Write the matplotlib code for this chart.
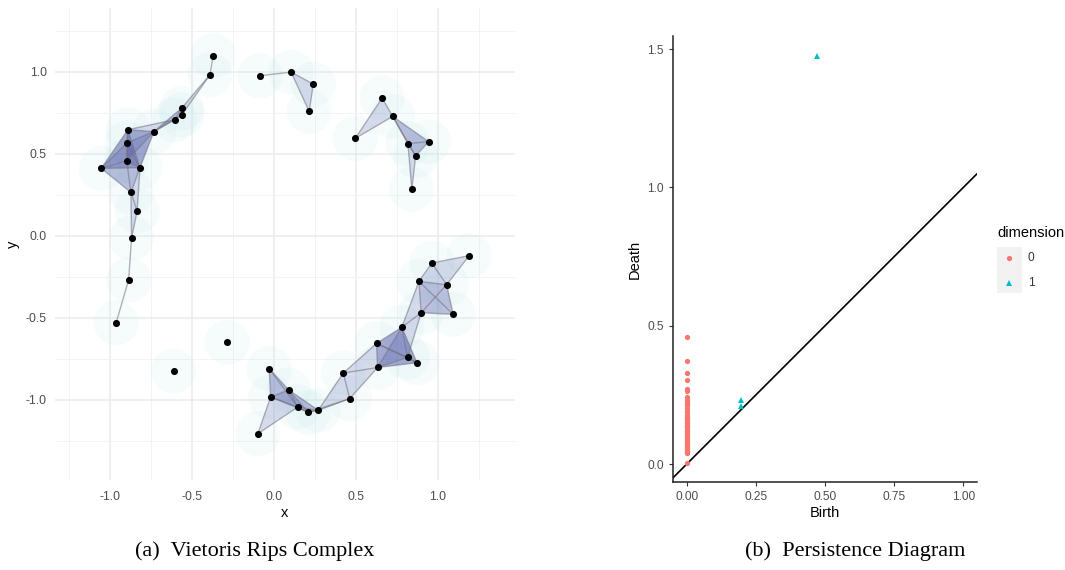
import numpy as np
import matplotlib
matplotlib.use("Agg")
import matplotlib.pyplot as plt
from matplotlib.patches import Circle, Polygon, Rectangle
from matplotlib.lines import Line2D
from itertools import combinations

# ---------------- data: point cloud (panel a) ----------------
pts_x = [-0.370, -0.390, -0.563, -0.561, -0.605, -0.732, -0.890, -0.898, -0.898,
         -1.053, -0.817, -0.872, -0.834, -0.868, -0.886, -0.962, -0.085, 0.105,
         0.240, 0.215, 0.660, 0.724, 0.496, 0.817, 0.943, 0.864, 0.841, -0.285,
         -0.612, -0.029, 0.090, -0.020, 0.145, 0.210, 0.270, -0.098, 0.423, 0.462,
         0.626, 0.632, 0.780, 0.815, 0.872, 0.898, 0.884, 0.963, 1.053, 1.093, 1.191]
pts_y = [1.100, 0.983, 0.779, 0.739, 0.709, 0.636, 0.648, 0.567, 0.459,
         0.412, 0.416, 0.266, 0.152, -0.012, -0.268, -0.529, 0.977, 0.999,
         0.926, 0.759, 0.841, 0.729, 0.595, 0.563, 0.575, 0.488, 0.285, -0.649,
         -0.823, -0.809, -0.939, -0.982, -1.043, -1.076, -1.063, -1.206, -0.836, -0.992,
         -0.655, -0.802, -0.557, -0.740, -0.773, -0.468, -0.277, -0.165, -0.297, -0.478, -0.120]
rips_eps = 0.30
ball_radius = 0.137

x_ticks = [-1.0, -0.5, 0.0, 0.5, 1.0]
y_ticks = [-1.0, -0.5, 0.0, 0.5, 1.0]

# ---------------- data: persistence diagram (panel b) ----------------
dim0_death = [0.005, 0.040, 0.044, 0.049, 0.055, 0.059, 0.062, 0.068, 0.074, 0.079,
              0.083, 0.088, 0.093, 0.097, 0.104, 0.108, 0.112, 0.118, 0.121, 0.127,
              0.133, 0.139, 0.142, 0.147, 0.152, 0.158, 0.162, 0.167, 0.171, 0.178,
              0.184, 0.191, 0.203, 0.212, 0.218, 0.224, 0.233, 0.243, 0.263, 0.270,
              0.304, 0.328, 0.371, 0.458]
dim0_birth = [0.0] * len(dim0_death)
dim1_birth = [0.195, 0.195, 0.471]
dim1_death = [0.231, 0.210, 1.474]

pd_ticks_x = [0.00, 0.25, 0.50, 0.75, 1.00]
pd_ticks_y = [0.0, 0.5, 1.0, 1.5]

col0 = "#F8766D"
col1 = "#00BFC4"

W, H = 1065, 570
fig = plt.figure(figsize=(W / 100, H / 100), dpi=100)
plt.rcParams["font.family"] = ["Liberation Sans", "DejaVu Sans"]

def px_rect(l, t, r, b):
    return [l / W, 1 - b / H, (r - l) / W, (b - t) / H]

# ---------------- panel a ----------------
ax = fig.add_axes(px_rect(55, 8, 515, 480))
ax.set_xlim(-1.335, 1.47)
ax.set_ylim(-1.488, 1.39)
ax.set_xticks(x_ticks)
ax.set_yticks(y_ticks)
ax.set_xticklabels([f"{v:.1f}" for v in x_ticks])
ax.set_yticklabels([f"{v:.1f}" for v in y_ticks])
ax.set_xticks([-1.25, -0.75, -0.25, 0.25, 0.75, 1.25], minor=True)
ax.set_yticks([-1.25, -0.75, -0.25, 0.25, 0.75, 1.25], minor=True)
ax.grid(which="major", color="#ebebeb", lw=1.1)
ax.grid(which="minor", color="#f3f3f3", lw=0.7)
ax.set_axisbelow(True)
for s in ax.spines.values():
    s.set_visible(False)
ax.tick_params(which="both", length=0, colors="#4d4d4d", labelsize=8.8)
ax.tick_params(axis="x", pad=8)
ax.tick_params(axis="y", pad=6)
ax.set_xlabel("x", fontsize=10.5, labelpad=2)
ax.set_ylabel("y", fontsize=10.5, labelpad=4)

P = np.column_stack([pts_x, pts_y])
n = len(P)
D = np.sqrt(((P[:, None, :] - P[None, :, :]) ** 2).sum(-1))

for i in range(n):
    ax.add_patch(Circle(P[i], ball_radius, facecolor=(0.72, 0.9, 0.92), alpha=0.12,
                        edgecolor="none", zorder=1))

edges = [(i, j) for i, j in combinations(range(n), 2) if D[i, j] < rips_eps]
tris = [(i, j, k) for i, j, k in combinations(range(n), 3)
        if D[i, j] < rips_eps and D[i, k] < rips_eps and D[j, k] < rips_eps]
for t in tris:
    ax.add_patch(Polygon(P[list(t)], closed=True, facecolor=(0.2, 0.22, 0.6),
                         alpha=0.16, edgecolor="none", zorder=2))
for i, j in edges:
    ax.plot([P[i, 0], P[j, 0]], [P[i, 1], P[j, 1]], color=(0.45, 0.45, 0.5),
            alpha=0.55, lw=1.0, zorder=3)
ax.scatter(pts_x, pts_y, s=26, color="black", zorder=4, linewidths=0)

# ---------------- panel b ----------------
bx = fig.add_axes(px_rect(672.7, 36, 976.7, 482.3))
bx.set_xlim(-0.0506, 1.048)
bx.set_ylim(-0.0658, 1.547)
bx.axline((0, 0), (1, 1), color="black", lw=1.2, zorder=1)
bx.plot(dim0_birth, dim0_death, "o", color=col0, ms=3.8, mew=0, zorder=3)
bx.plot(dim1_birth, dim1_death, "^", color=col1, ms=4.5, mew=0, zorder=3)
bx.set_xticks(pd_ticks_x)
bx.set_xticklabels([f"{v:.2f}" for v in pd_ticks_x])
bx.set_yticks(pd_ticks_y)
bx.set_yticklabels([f"{v:.1f}" for v in pd_ticks_y])
for s in ["top", "right"]:
    bx.spines[s].set_visible(False)
for s in ["left", "bottom"]:
    bx.spines[s].set_linewidth(1.1)
    bx.spines[s].set_color("#222222")
bx.tick_params(length=3, width=0.8, colors="#333333", labelsize=8.6, labelcolor="#4d4d4d")
bx.set_xlabel("Birth", fontsize=10.5, labelpad=2)
bx.set_ylabel("Death", fontsize=10.5, labelpad=4)

# ---------------- legend ----------------
fig.text(997 / W, 1 - 233 / H, "dimension", fontsize=10.5, ha="left", va="center")
fig.add_artist(Rectangle((996.7 / W, 1 - 293.3 / H), 25 / W, 46.6 / H,
                         transform=fig.transFigure, facecolor="#f2f2f2", edgecolor="none"))
fig.add_artist(Line2D([1009.2 / W], [1 - 258.3 / H], transform=fig.transFigure,
                      marker="o", color=col0, ms=3.8, mew=0, ls="none"))
fig.add_artist(Line2D([1009.2 / W], [1 - 283.3 / H], transform=fig.transFigure,
                      marker="^", color=col1, ms=4.5, mew=0, ls="none"))
fig.text(1028 / W, 1 - 258.3 / H, "0", fontsize=8.6, ha="left", va="center", color="#333333")
fig.text(1028 / W, 1 - 283.3 / H, "1", fontsize=8.6, ha="left", va="center", color="#333333")

# ---------------- captions ----------------
fig.text(255 / W, 1 - 551 / H, "(a)  Vietoris Rips Complex", fontsize=16,
         family=["Liberation Serif", "DejaVu Serif"], ha="center", va="center")
fig.text(855 / W, 1 - 551 / H, "(b)  Persistence Diagram", fontsize=16,
         family=["Liberation Serif", "DejaVu Serif"], ha="center", va="center")

fig.savefig("out.png", dpi=100)
